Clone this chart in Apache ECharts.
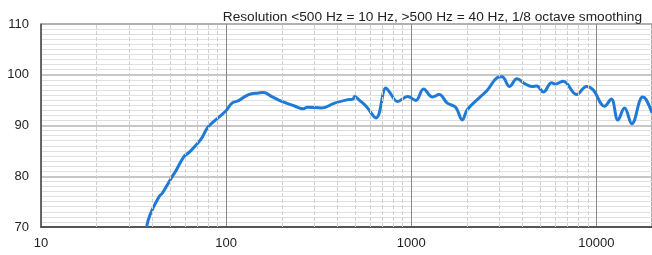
<!DOCTYPE html>
<html>
<head>
<meta charset="utf-8">
<script src="https://cdn.jsdelivr.net/npm/echarts@6/dist/echarts.min.js"></script>
<style>
  html, body { margin: 0; padding: 0; background: #fff; }
  #chart { width: 652px; height: 255px; }
</style>
</head>
<body>
<div id="chart"></div>
<script>
// frequency response
const freqs = [37.2, 38.8, 43.5, 45.3, 51.3, 53.4, 59.3, 63.1, 72.9, 79.1, 85.9, 99.3, 107.6, 116.9,
  132.4, 149.8, 159.4, 176.6, 199.8, 235.8, 261, 275, 327.5, 386, 455, 484.6, 495, 526, 571, 646,
  731, 760, 845, 957, 1059, 1166, 1303, 1416, 1568, 1738, 1888, 2008, 2367, 2570, 2910, 3094,
  3402, 3725, 4128, 4485, 4770, 5176, 5741, 6000, 6634, 7821, 8851, 9612, 11092, 12050, 13090,
  14210, 15560, 17820, 18600, 20000]
const spl = [70.0, 72.4, 76.0, 76.7, 80.0, 81.0, 83.9, 84.7, 87.2, 89.5, 90.8, 92.8, 94.4, 94.9,
  96.1, 96.4, 96.5, 95.7, 94.75, 93.8, 93.3, 93.6, 93.45, 94.4, 95.1, 95.2, 95.7, 94.95, 93.8, 91.5,
  97.4, 96.7, 94.75, 95.7, 94.95, 97.2, 95.6, 96.1, 94.4, 93.6, 91.1, 93.1, 95.7, 96.9, 99.4, 99.6,
  97.7, 99.2, 98.2, 97.7, 97.8, 96.6, 98.4, 98.2, 98.7, 96.1, 97.7, 97.05, 93.8, 95.2, 91.1,
  93.45, 90.35, 95.6, 95.1, 92.5]
const minorFreqs = [20, 30, 40, 50, 60, 70, 80, 90, 200, 300, 400, 500, 600, 700, 800, 900,
  2000, 3000, 4000, 5000, 6000, 7000, 8000, 9000]
const title = 'Resolution <500 Hz = 10 Hz, >500 Hz = 40 Hz, 1/8 octave smoothing'

const chart = echarts.init(document.getElementById('chart'))
const labelColor = '#222'

chart.setOption({
  animation: false,
  title: {
    text: title,
    right: 5,
    top: 5,
    textStyle: { fontFamily: 'Liberation Sans', fontSize: 13.7, fontWeight: 'normal', color: labelColor }
  },
  grid: {
    left: 41,
    top: 24,
    bottom: 28,
    right: -4,
    show: true,
    borderColor: '#555',
    borderWidth: 1
  },
  xAxis: {
    type: 'log',
    logBase: 10,
    min: 10,
    max: 20000,
    axisLine: { show: true, lineStyle: { color: '#555', width: 2 } },
    axisTick: { show: false },
    axisLabel: {
      color: labelColor,
      fontFamily: 'Liberation Sans',
      fontSize: 13,
      margin: 10,
      showMaxLabel: false,
      formatter: v => String(Math.round(v))
    },
    splitLine: { show: true, lineStyle: { color: '#888', width: 1 } }
  },
  yAxis: {
    type: 'value',
    min: 70,
    max: 110,
    interval: 10,
    axisLine: { show: true, lineStyle: { color: '#555', width: 1.5 } },
    axisTick: { show: false },
    axisLabel: {
      color: labelColor,
      fontFamily: 'Liberation Sans',
      fontSize: 13,
      margin: 12
    },
    splitLine: { show: true, lineStyle: { color: '#b4b4b4', width: 1.5 } },
    minorTick: { show: false, splitNumber: 10 },
    minorSplitLine: { show: true, lineStyle: { color: '#e0e0e0', width: 1 } }
  },
  series: [
    {
      // minor frequency grid lines
      type: 'line',
      data: [],
      silent: true,
      z: 1,
      markLine: {
        silent: true,
        symbol: 'none',
        label: { show: false },
        lineStyle: { color: '#cfcfcf', type: [4, 2], width: 1 },
        data: minorFreqs.map(f => ({ xAxis: f }))
      }
    },
    {
      type: 'line',
      z: 3,
      data: freqs.map((f, i) => [f, spl[i]]),
      showSymbol: false,
      smooth: 0.4,
      clip: true,
      lineStyle: { color: '#1f7ad6', width: 3 }
    }
  ]
})
</script>
</body>
</html>
